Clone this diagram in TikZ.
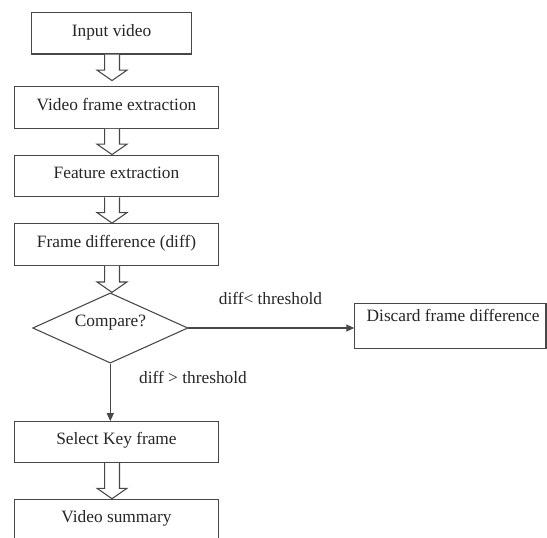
\documentclass[tikz,border=0pt]{standalone}
\usepackage{fontspec}
\setmainfont{Liberation Serif}
\usetikzlibrary{shapes.geometric,calc,arrows.meta}
\tikzset{
  linecol/.style={draw=black!72, line width=0.8pt},
  box/.style={linecol, rectangle, inner sep=0pt, text=black!85,
    font=\fontsize{13}{15}\selectfont, text height=0.7em, text depth=0.3em},
  lbl/.style={inner sep=0pt, text=black!85, font=\fontsize{13}{15}\selectfont,
    text height=0.7em, text depth=0.3em},
  blockarr/.style={linecol, fill=white, line join=miter},
  thinarr/.style={linecol, -{Triangle[length=6pt,width=5.2pt]}},
}
\newcommand{\blockarrow}[3]{%
  \draw[blockarr] let \p1=(#1.south -| axis), \p2=(#2.north -| axis) in
    (\x1-5.6pt,\y1) -- (\x1-5.6pt,\y2+#3+7.8pt) -- (\x1-11.2pt,\y2+#3+7.8pt)
    -- (\x1,\y2+#3) -- (\x1+11.2pt,\y2+#3+7.8pt) -- (\x1+5.6pt,\y2+#3+7.8pt)
    -- (\x1+5.6pt,\y1);
}
\begin{document}
\begin{tikzpicture}[x=0.75pt,y=-0.75pt]
\clip (0,0) rectangle (547,537);
\fill[white] (0,0) rectangle (547,537);
\coordinate (axis) at (112,0);

\node[box, minimum width=160.3*0.75pt, minimum height=41.3*0.75pt] (in) at (111.55,33.35) {Input video};
\node[box, minimum width=203.6*0.75pt, minimum height=41.6*0.75pt] (vfe) at (116.5,107.5) {Video frame extraction};
\node[box, minimum width=203.6*0.75pt, minimum height=41.8*0.75pt] (fe) at (116.5,176) {Feature extraction};
\node[box, minimum width=203.6*0.75pt, minimum height=41.8*0.75pt] (fd) at (116.5,244.5) {Frame difference (diff)};
\node[linecol, diamond, shape aspect=2.2, inner sep=0pt,
      minimum width=155.3*0.75pt, minimum height=70.2*0.75pt] (dia) at (110.3,328) {};
\node[lbl] (cmp) at (110.5,323.5) {Compare?};
\node[box, minimum width=191.2*0.75pt, minimum height=45*0.75pt] (disc) at (450.4,325.8) {};
\node[lbl, anchor=west] (disctext) at (366.4,318.5) {Discard frame difference};
\node[box, minimum width=203.6*0.75pt, minimum height=41*0.75pt] (sel) at (116.5,442.2) {Select Key frame};
\node[box, minimum width=203.6*0.75pt, minimum height=41.5*0.75pt] (sum) at (116.5,520) {Video summary};

\node[lbl] (lt) at (270.5,301.4) {diff< threshold};
\node[lbl] (gt) at (193,380.5) {diff > threshold};

\blockarrow{in}{vfe}{4.2pt}
\blockarrow{vfe}{fe}{0pt}
\blockarrow{fe}{fd}{0pt}
\blockarrow{fd}{dia}{0pt}
\blockarrow{sel}{sum}{0pt}

\draw[thinarr] (dia.east) -- (disc.west |- dia.east);
\draw[thinarr] (dia.south) -- (sel.north -| dia.south);
\end{tikzpicture}
\end{document}
